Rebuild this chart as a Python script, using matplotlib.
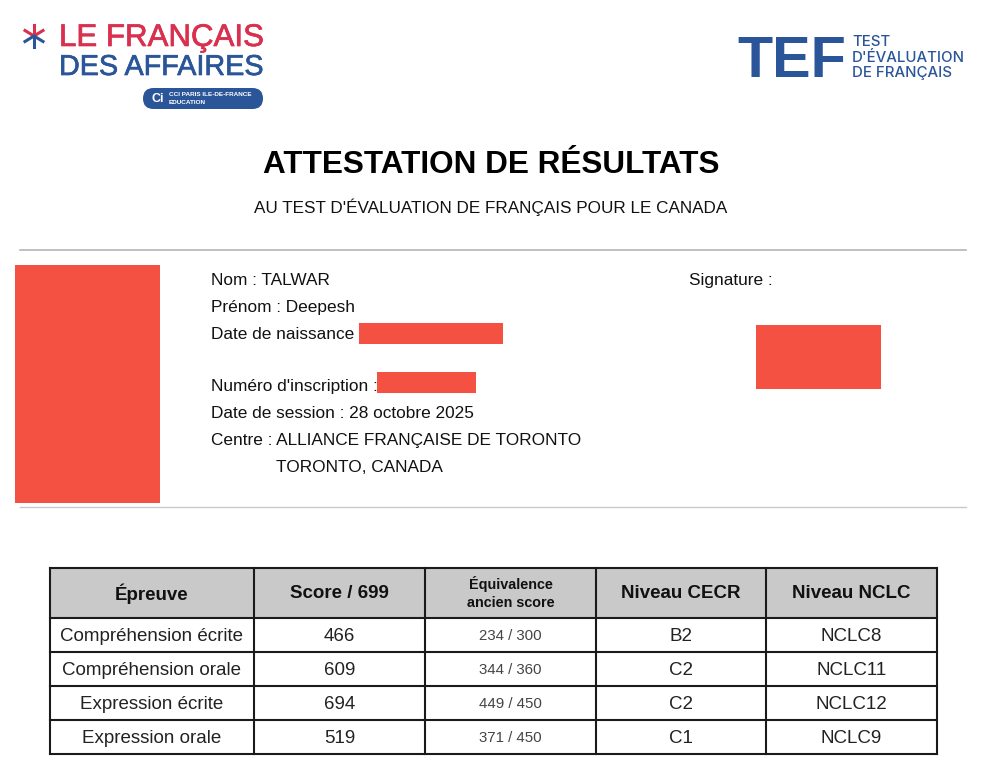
import matplotlib
matplotlib.use('Agg')
import matplotlib.pyplot as plt
import matplotlib.patheffects as pe
from matplotlib.patches import Rectangle, FancyBboxPatch

plt.rcParams['font.family'] = ['Liberation Sans', 'DejaVu Sans']

epreuves = ['Compréhension écrite', 'Compréhension orale', 'Expression écrite', 'Expression orale']
scores = ['466', '609', '694', '519']
anciens = ['234 / 300', '344 / 360', '449 / 450', '371 / 450']
cecr = ['B2', 'C2', 'C2', 'C1']
nclc = ['NCLC8', 'NCLC11', 'NCLC12', 'NCLC9']
headers = ['Épreuve', 'Score / 699', 'Équivalence\nancien score', 'Niveau CECR', 'Niveau NCLC']

infos = [
    (211, 280, 'Nom : TALWAR'),
    (211, 307, 'Prénom : Deepesh'),
    (211, 334, 'Date de naissance'),
    (211, 386, "Numéro d'inscription :"),
    (211, 413, 'Date de session : 28 octobre 2025'),
    (211, 440, 'Centre : ALLIANCE FRANÇAISE DE TORONTO'),
    (276, 467, 'TORONTO, CANADA'),
    (689, 280, 'Signature :'),
]

masques = [(15, 265, 145, 238), (359, 323, 144, 21), (377, 372, 99, 21), (756, 325, 125, 64)]

col_x = [49.5, 254, 425, 596, 766, 937]
row_y = [568, 618, 652, 686, 720, 754]

ROUGE = '#D9304F'
BLEU = '#2A5599'

fig = plt.figure(figsize=(9.81, 7.68), dpi=100)
ax = fig.add_axes([0, 0, 1, 1])
ax.set_xlim(0, 981)
ax.set_ylim(768, 0)
ax.axis('off')

# logo gauche
ax.plot([34, 34], [25, 36], color=ROUGE, lw=2.2)
ax.plot([25, 34, 43], [30.5, 36, 30.5], color=ROUGE, lw=2.2)
ax.plot([34, 34], [36, 47], color=BLEU, lw=2.2)
ax.plot([25, 34, 43], [41.5, 36, 41.5], color=BLEU, lw=2.2)
t1 = ax.text(59, 46, 'LE FRANÇAIS', color=ROUGE, fontsize=22.5, ha='left', va='baseline')
t1.set_path_effects([pe.withStroke(linewidth=0.5, foreground=ROUGE)])
t2 = ax.text(59, 75, 'DES AFFAIRES', color=BLEU, fontsize=20.7, ha='left', va='baseline')
t2.set_path_effects([pe.withStroke(linewidth=0.5, foreground=BLEU)])
ax.add_patch(FancyBboxPatch((143, 88), 120, 21, boxstyle='round,pad=0,rounding_size=10.5',
                            fc=BLEU, ec='none'))
ax.text(152, 98.5, 'Ci', color='white', fontsize=9, fontweight='bold', ha='left', va='center')
ax.text(169, 95, 'CCI PARIS ILE-DE-FRANCE', color='white', fontsize=4.6, fontweight='bold', ha='left', va='center')
ax.text(169, 102, 'EDUCATION', color='white', fontsize=4.6, fontweight='bold', ha='left', va='center')

# logo droite
ax.text(737, 77, 'TEF', color=BLEU, fontsize=41.5, fontweight='bold', ha='left', va='baseline')
ax.text(852, 46, 'TEST', color=BLEU, family='Inter', fontweight='medium', fontsize=10.8, ha='left', va='baseline')
ax.text(852, 62, "D'ÉVALUATION", color=BLEU, family='Inter', fontweight='medium', fontsize=10.8, ha='left', va='baseline')
ax.text(852, 77, 'DE FRANÇAIS', color=BLEU, family='Inter', fontweight='medium', fontsize=10.8, ha='left', va='baseline')

# titres
ax.text(491, 165, 'ATTESTATION DE RÉSULTATS', fontsize=22.7, fontweight='bold', ha='center', va='center', color='black')
ax.text(491, 207, "AU TEST D'ÉVALUATION DE FRANÇAIS POUR LE CANADA", fontsize=12.3, ha='center', va='center', color='#111111')

ax.plot([20, 966], [250, 250], color='#B5B5B5', lw=1.2)
ax.plot([20, 966], [507, 507], color='#C8C8C8', lw=1)

for x, y, t in infos:
    ax.text(x, y + 0.5, t, fontsize=12.4, ha='left', va='center', color='#111111')
for x, y, w, h in masques:
    ax.add_patch(Rectangle((x, y), w, h, fc='#F55142', ec='none'))

# tableau
ax.add_patch(Rectangle((col_x[0], row_y[0]), col_x[-1] - col_x[0], row_y[1] - row_y[0], fc='#C9C9C9', ec='none'))
for y in row_y:
    ax.plot([col_x[0], col_x[-1]], [y, y], color='#1A1A1A', lw=1.5, solid_capstyle='projecting')
for x in col_x:
    ax.plot([x, x], [row_y[0], row_y[-1]], color='#1A1A1A', lw=1.5, solid_capstyle='projecting')

head_y = (row_y[0] + row_y[1]) / 2
for i, h in enumerate(headers):
    cx = (col_x[i] + col_x[i + 1]) / 2
    if i == 2:
        ax.text(cx, head_y, h, fontsize=10.4, fontweight='bold', ha='center', va='center', color='#111111', linespacing=1.35)
    else:
        ax.text(cx, head_y + 0.5, h, fontsize=13.5, fontweight='bold', ha='center', va='center', color='#111111')

for r in range(len(epreuves)):
    cy = (row_y[r + 1] + row_y[r + 2]) / 2 + 1.5
    cols = [epreuves[r], scores[r], anciens[r], cecr[r], nclc[r]]
    for i, t in enumerate(cols):
        cx = (col_x[i] + col_x[i + 1]) / 2
        size = 10.8 if i == 2 else 13.5
        ax.text(cx, cy, t, fontsize=size, ha='center', va='center', color='#222222' if i != 2 else '#444444')

fig.savefig('out.png', dpi=100)
